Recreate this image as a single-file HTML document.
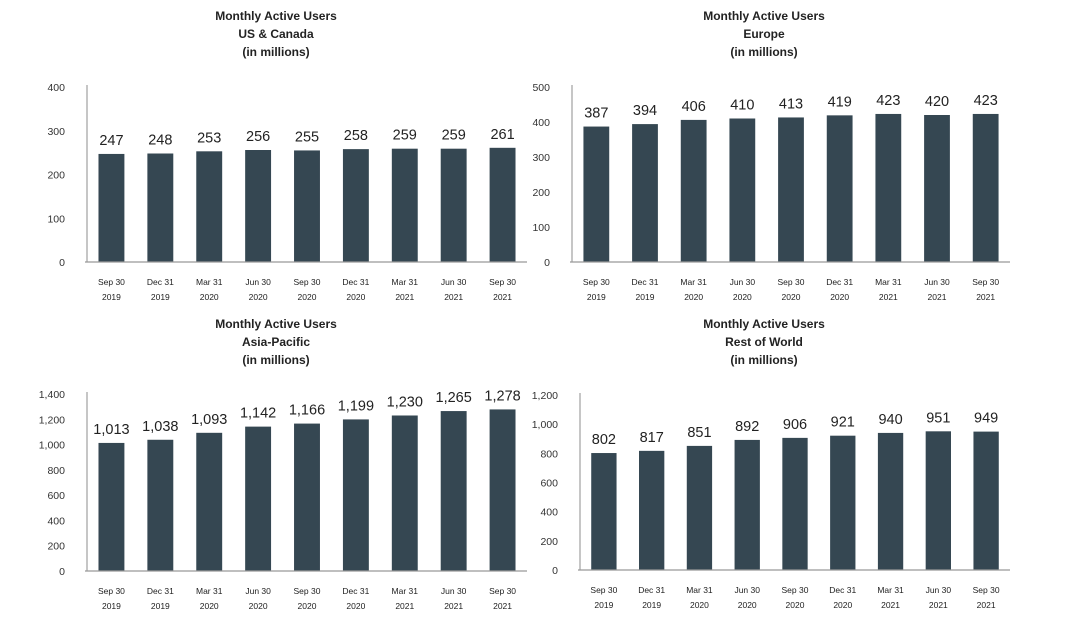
<!DOCTYPE html>
<html><head><meta charset="utf-8"><style>
body{margin:0;background:#fff;width:1068px;height:629px;overflow:hidden;font-family:"Liberation Sans",sans-serif}
svg{display:block}
</style></head><body>
<svg id="root" width="1068" height="629"></svg>
<script>
const categories=[["Sep 30","2019"],["Dec 31","2019"],["Mar 31","2020"],["Jun 30","2020"],["Sep 30","2020"],["Dec 31","2020"],["Mar 31","2021"],["Jun 30","2021"],["Sep 30","2021"]];
const usCanada=[247,248,253,256,255,258,259,259,261];
const europe=[387,394,406,410,413,419,423,420,423];
const asiaPacific=[1013,1038,1093,1142,1166,1199,1230,1265,1278];
const restOfWorld=[802,817,851,892,906,921,940,951,949];
const usTicks=[0,100,200,300,400];
const euTicks=[0,100,200,300,400,500];
const apTicks=[0,200,400,600,800,1000,1200,1400];
const rowTicks=[0,200,400,600,800,1000,1200];
const charts=[
 {name:"us-canada",region:"US & Canada",vals:usCanada,ticks:usTicks,x0:87,x1:527,y0:262,y1:87,tx:276,ty:15},
 {name:"europe",region:"Europe",vals:europe,ticks:euTicks,x0:572,x1:1010,y0:262,y1:87,tx:764,ty:15},
 {name:"asia-pacific",region:"Asia-Pacific",vals:asiaPacific,ticks:apTicks,x0:87,x1:527,y0:571,y1:394,tx:276,ty:323},
 {name:"rest-of-world",region:"Rest of World",vals:restOfWorld,ticks:rowTicks,x0:580,x1:1010,y0:570,y1:395,tx:764,ty:323}
];
const NS="http://www.w3.org/2000/svg";
const root=document.getElementById('root');
function mk(tag,attrs,parent,text){const e=document.createElementNS(NS,tag);for(const k in attrs)e.setAttribute(k,attrs[k]);if(text!==undefined)e.textContent=text;parent.appendChild(e);return e;}
const fmt=v=>v.toLocaleString('en-US');
charts.forEach(c=>{
 const g=mk('g',{},root);
 
 
 const max=c.ticks[c.ticks.length-1];
 const y=v=>c.y0-(v/max)*(c.y0-c.y1);
 const band=(c.x1-c.x0)/categories.length;
 const xc=i=>c.x0+band*(i+0.5);
 const title=mk('text',{x:c.tx,y:c.ty+5,'text-anchor':'middle','font-size':'12','font-weight':'bold',fill:'#222'},g);
 
 
 ["Monthly Active Users",c.region,"(in millions)"].forEach((t,k)=>mk('tspan',{x:c.tx,dy:k?18:0},title,t));
 c.ticks.forEach(t=>{
  const tl=mk('text',{x:c.x0-22,y:y(t)+4,'text-anchor':'end','font-size':'10.5',fill:'#333'},g,fmt(t));
  
  
 });
 const ax=mk('line',{x1:c.x0,y1:c.y1-2,x2:c.x0,y2:c.y0,stroke:'#a8a8a8','stroke-width':1.3},g);
 
 
 c.vals.forEach((v,i)=>{
  const w=band*0.53;
  const b=mk('rect',{x:xc(i)-w/2,y:y(v),width:w,height:c.y0-y(v),fill:'#354752'},g);
  
  
  const l=mk('text',{x:xc(i),y:y(v)-9,'text-anchor':'middle','font-size':'14.5',fill:'#222'},g,fmt(v));
  
  
  const xl=mk('text',{x:xc(i),y:c.y0+23,'text-anchor':'middle','font-size':'8.5',fill:'#222'},g);
  
  
  mk('tspan',{x:xc(i),dy:0},xl,categories[i][0]);
  mk('tspan',{x:xc(i),dy:15},xl,categories[i][1]);
 });
 const bl=mk('line',{x1:c.x0-2,y1:c.y0,x2:c.x1,y2:c.y0,stroke:'#999','stroke-width':1.3},g);
 
 
});
</script>
</body></html>
